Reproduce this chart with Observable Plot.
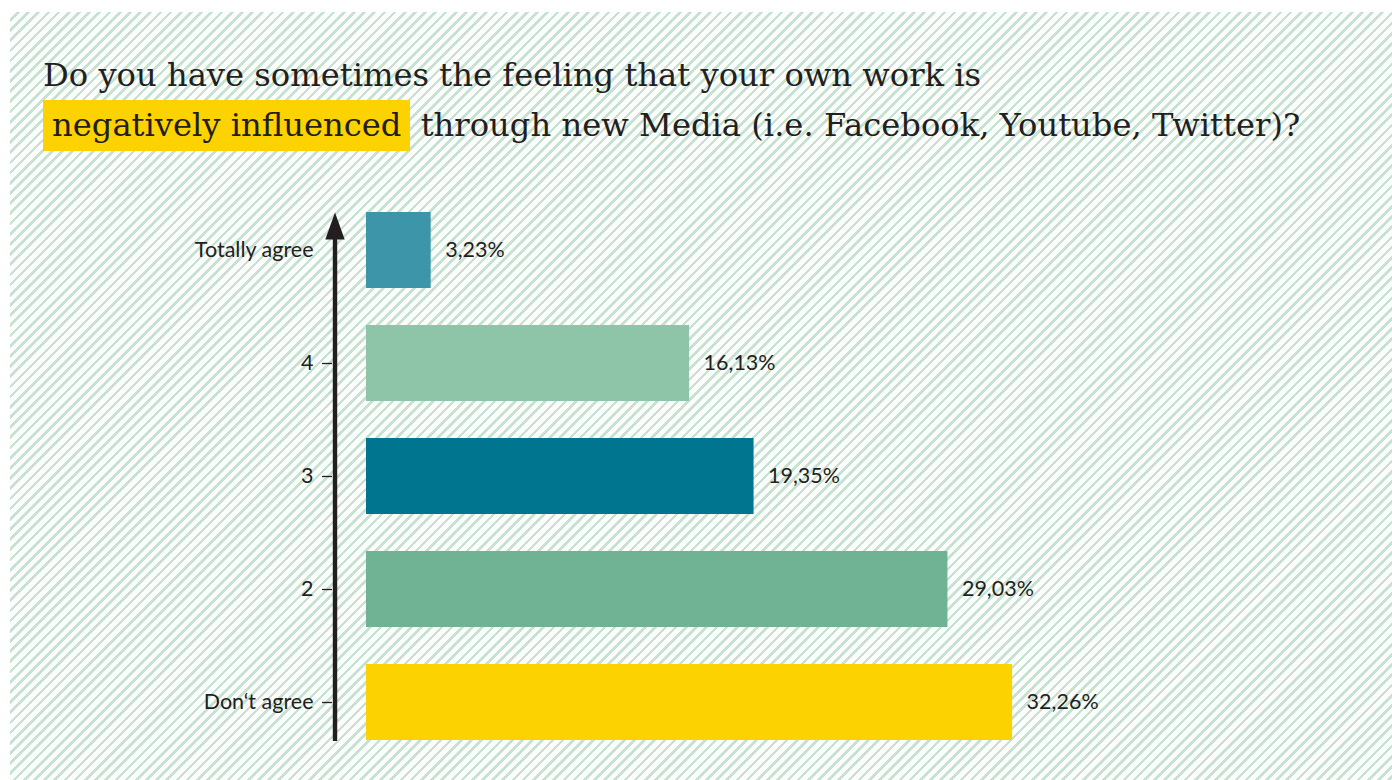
<!DOCTYPE html>
<html>
<head>
<meta charset="utf-8">
<script src="https://cdn.jsdelivr.net/npm/d3@7"></script>
<script src="https://cdn.jsdelivr.net/npm/@observablehq/plot@0.6"></script>
<style>
  html, body { margin: 0; padding: 0; background: #ffffff; }
  body { width: 1392px; height: 780px; overflow: hidden; position: relative; }
  #panel {
    position: absolute; left: 10px; top: 12px; width: 1382px; height: 768px; overflow: hidden;
    background: repeating-linear-gradient(135deg, #fdfdfd 0px, #fdfdfd 4.6px, #c6e2d1 4.6px, #c6e2d1 7.2px);
  }
  #title {
    position: absolute; left: 33px; top: 39px; margin: 0;
    font-family: "DejaVu Serif", serif; font-weight: normal; font-size: 32.2px; line-height: 49px;
    color: #231f20; white-space: nowrap;
  }
  #title .hl { display: inline-block; background: #fcd200; padding: 0 9px; line-height: 51px; }
  #chart { position: absolute; left: 0; top: 184px; }
</style>
</head>
<body>
<div id="panel">
  <div id="title">Do you have sometimes the feeling that your own work is<br><span class="hl">negatively influenced</span> through new Media (i.e. Facebook, Youtube, Twitter)?</div>
  <div id="chart"></div>
</div>
<script>
// ---- data ----
const categories = ["Totally agree", "4", "3", "2", "Don‘t agree"];
const values = [3.23, 16.13, 19.35, 29.03, 32.26];
const colors = ["#3d95a9", "#8ec4a8", "#00758f", "#6fb294", "#fcd200"];

const data = categories.map((c, i) => ({category: c, value: values[i]}));
const fmt = v => v.toFixed(2).replace(".", ",") + "%";
const ink = "#231f20";

// filled arrow head, tip at the anchor point
const arrowHead = {
  draw(ctx) { ctx.moveTo(0, 0); ctx.lineTo(9.7, 27); ctx.lineTo(-9.7, 27); ctx.closePath(); }
};

const chart = Plot.plot({
  width: 1382,
  height: 565,
  marginTop: 15,
  marginBottom: 20,
  marginLeft: 356,
  marginRight: 325,
  style: {background: "transparent", fontFamily: "Lato, sans-serif", fontSize: "21.5px", color: ink},
  x: {domain: [0, 35], axis: null},
  y: {domain: categories, paddingInner: 0.33, paddingOuter: 0},
  color: {domain: categories, range: colors},
  marks: [
    Plot.barX(data, {x: "value", y: "category", fill: "category"}),
    Plot.text(data, {x: "value", y: "category", text: d => fmt(d.value), dx: 14, textAnchor: "start", fill: ink, fontSize: 21.5}),
    Plot.axisY({tickSize: 0, tickPadding: 53, label: null, fontSize: 21.5, fill: ink}),
    Plot.axisY(categories.slice(1), {tickSize: 10, dx: -34, fill: "none", stroke: ink, strokeWidth: 1.3, label: null}),
    Plot.ruleX([0], {dx: -31.5, insetTop: 14, stroke: ink, strokeWidth: 4.4}),
    Plot.dot([0], {x: d => d, frameAnchor: "top", dx: -31.5, dy: 1, symbol: arrowHead, fill: ink, stroke: "none"})
  ]
});
document.getElementById("chart").appendChild(chart);
</script>
</body>
</html>
